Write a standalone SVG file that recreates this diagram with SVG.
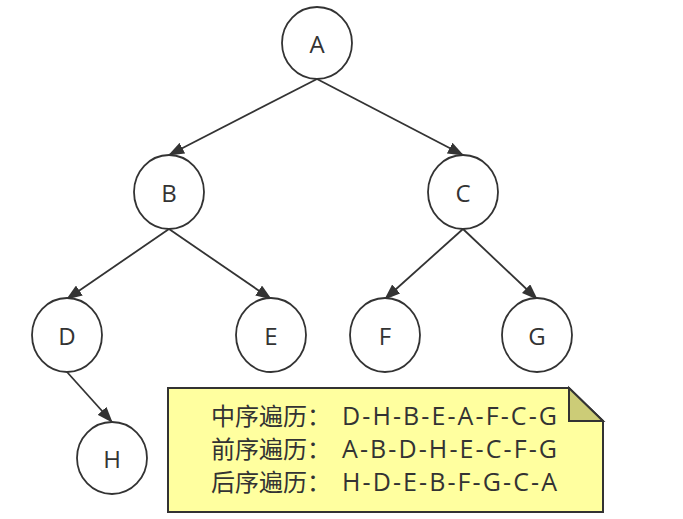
<svg xmlns="http://www.w3.org/2000/svg" width="683" height="519" viewBox="0 0 683 519">
  <style>
    .node ellipse { fill: #ffffff; stroke: #333333; stroke-width: 1.8; }
    .node text { font-family: "Open Sans", "Noto Sans", sans-serif; font-size: 24px; fill: #333333; text-anchor: middle; dominant-baseline: central; }
    .edge { stroke: #333333; stroke-width: 1.8; fill: none; marker-end: url(#arrow); }
    .note-body { fill: #ffff9f; stroke: #333333; stroke-width: 2; }
    .note-fold { fill: #cccc77; stroke: #333333; stroke-width: 2; stroke-linejoin: miter; }
    .note text { font-family: "Noto Sans CJK SC", "Noto Sans", sans-serif; font-size: 24px; fill: #333333; }
    .note tspan.seq { font-family: "Open Sans", "Noto Sans", sans-serif; font-size: 25px; }
  </style>
  <defs>
    <marker id="arrow" viewBox="0 0 16 12" refX="15" refY="6" markerWidth="16" markerHeight="12" markerUnits="userSpaceOnUse" orient="auto">
      <path d="M0,0 L16,6 L0,12 Z" fill="#333333"/>
    </marker>
  </defs>

  <rect width="683" height="519" fill="#ffffff"/>

  <g id="connectors">
    <line class="edge" x1="317" y1="79" x2="169" y2="155"/>
    <line class="edge" x1="317" y1="79" x2="463" y2="155"/>
    <line class="edge" x1="169" y1="229" x2="67" y2="299"/>
    <line class="edge" x1="169" y1="229" x2="271" y2="299"/>
    <line class="edge" x1="463" y1="229" x2="385" y2="299"/>
    <line class="edge" x1="463" y1="229" x2="537" y2="299"/>
    <line class="edge" x1="67" y1="372" x2="112" y2="422"/>
  </g>

  <g id="node-A" class="node"><ellipse cx="317" cy="43" rx="35" ry="36"/><text x="317" y="43">A</text></g>
  <g id="node-B" class="node"><ellipse cx="169" cy="192" rx="35" ry="37"/><text x="169" y="192">B</text></g>
  <g id="node-C" class="node"><ellipse cx="463" cy="192" rx="35" ry="37"/><text x="463" y="192">C</text></g>
  <g id="node-D" class="node"><ellipse cx="67" cy="335" rx="35" ry="37"/><text x="67" y="335">D</text></g>
  <g id="node-E" class="node"><ellipse cx="271" cy="335" rx="35" ry="37"/><text x="271" y="335">E</text></g>
  <g id="node-F" class="node"><ellipse cx="385" cy="335" rx="35" ry="37"/><text x="385" y="335">F</text></g>
  <g id="node-G" class="node"><ellipse cx="537" cy="335" rx="35" ry="37"/><text x="537" y="335">G</text></g>
  <g id="node-H" class="node"><ellipse cx="112" cy="458" rx="35" ry="36"/><text x="112" y="458">H</text></g>

  <g id="note" class="note">
    <path class="note-body" d="M168,388 L569,388 L603,421 L603,512 L168,512 Z"/>
    <path class="note-fold" d="M569,388 L569,421 L603,421 Z"/>
    <text x="211" y="425">中序遍历：<tspan class="seq" x="342" textLength="215" lengthAdjust="spacing">D-H-B-E-A-F-C-G</tspan></text>
    <text x="211" y="458">前序遍历：<tspan class="seq" x="342" textLength="215" lengthAdjust="spacing">A-B-D-H-E-C-F-G</tspan></text>
    <text x="211" y="491">后序遍历：<tspan class="seq" x="342" textLength="215" lengthAdjust="spacing">H-D-E-B-F-G-C-A</tspan></text>
  </g>
</svg>
